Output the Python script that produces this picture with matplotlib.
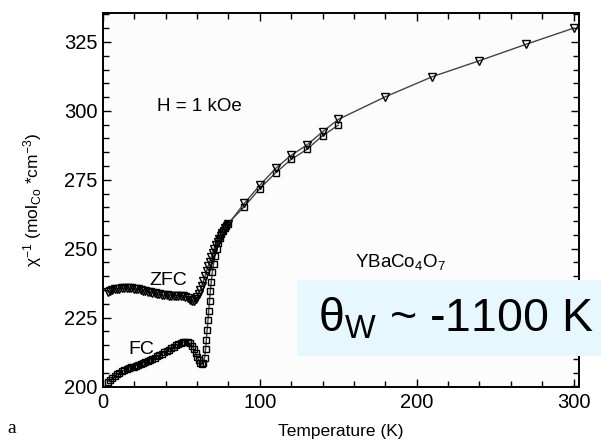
import matplotlib
matplotlib.use('Agg')
import matplotlib.pyplot as plt
from matplotlib.patches import Rectangle
from matplotlib.ticker import MultipleLocator

plt.rcParams['font.family'] = ['Liberation Sans', 'DejaVu Sans']
plt.rcParams['mathtext.default'] = 'regular'

# zero-field-cooled branch (dense low-T sweep + sparse high-T points)
zfc_T = [3, 4.5, 6, 7.5, 9, 10.5, 12, 13.5, 15, 16.5, 18, 19.5, 21, 22.5, 24,
         25.5, 27, 28.5, 30, 31.5, 33, 34.5, 36, 37.5, 39, 40.5, 42, 43.5, 45,
         46.5, 48, 49.5, 51, 52.5, 54, 55.5, 57, 58, 59, 60, 61, 62, 63, 64, 65,
         66, 67, 68, 69, 70, 71, 72, 73, 74, 75, 76, 77, 78, 79, 80,
         90, 100, 110, 120, 130, 140, 150, 180, 210, 240, 270, 300]
zfc_chi = [234.3, 234.6, 234.9, 235.2, 235.4, 235.5, 235.6, 235.7, 235.7, 235.7,
           235.6, 235.5, 235.4, 235.2, 235.0, 234.8, 234.6, 234.4, 234.2, 234.0,
           233.8, 233.6, 233.4, 233.3, 233.2, 233.1, 233.0, 233.0, 233.0, 233.0,
           233.0, 233.0, 232.9, 232.6, 232.0, 231.4, 231.0, 231.0, 231.6, 232.5,
           233.7, 235.0, 236.6, 238.3, 240.0, 241.8, 243.6, 245.3, 247.0, 248.5,
           250.0, 251.3, 252.5, 253.6, 254.6, 255.6, 256.5, 257.4, 258.2, 259.0,
           266.4, 273.0, 279.1, 283.9, 287.6, 292.4, 296.9, 305.1, 312.4, 318.2,
           324.2, 330.0]

# field-cooled branch
fc_T = [3, 4.5, 6, 7.5, 9, 10.5, 12, 13.5, 15, 16.5, 18, 19.5, 21, 22.5, 24,
        25.5, 27, 28.5, 30, 31.5, 33, 34.5, 36, 37.5, 39, 40.5, 42, 43.5, 45,
        46.5, 48, 49.5, 51, 52.5, 54, 55.5, 57, 58, 59, 60, 61, 62, 63, 64,
        64.8, 65.4, 65.9, 66.4, 66.9, 67.4, 67.9, 68.4, 69, 69.7, 70.5, 71.5,
        72.5, 73.5, 74.5, 75.5, 76.5, 77.5, 78.5, 79.5,
        90, 100, 110, 120, 130, 140, 150]
fc_chi = [201.8, 202.3, 203.0, 203.7, 204.4, 205.0, 205.5, 205.9, 206.3, 206.6,
          206.9, 207.2, 207.5, 207.8, 208.1, 208.4, 208.8, 209.2, 209.6, 210.0,
          210.4, 210.9, 211.4, 211.9, 212.4, 212.9, 213.4, 213.9, 214.4, 214.9,
          215.4, 215.8, 216.1, 216.2, 216.1, 215.6, 214.6, 213.5, 212.2, 210.8,
          209.5, 208.5, 208.0, 208.6, 210.5, 213.5, 217.0, 220.5, 224.0, 227.5,
          231.0, 234.5, 238.0, 241.5, 244.5, 247.5, 250.0, 252.0, 253.8, 255.2,
          256.4, 257.5, 258.4, 259.0,
          265.2, 271.8, 277.5, 282.4, 286.0, 291.0, 294.8]

fig = plt.figure(figsize=(6.01, 4.41), dpi=100)
fig.patch.set_facecolor('white')
ax = fig.add_axes([0.1714, 0.1224, 0.792, 0.8481])
ax.set_facecolor('#fcfcfc')

ax.plot(fc_T, fc_chi, color='#444444', lw=1.0, marker='s', ms=5,
        mfc='none', mec='black', mew=1.0)
ax.plot(zfc_T, zfc_chi, color='#444444', lw=1.0, marker='v', ms=5.5,
        mfc='none', mec='black', mew=1.0)

ax.set_xlim(0, 303.5)
ax.set_ylim(199.8, 335.5)
ax.xaxis.set_major_locator(MultipleLocator(100))
ax.xaxis.set_minor_locator(MultipleLocator(20))
ax.yaxis.set_major_locator(MultipleLocator(25))
ax.yaxis.set_minor_locator(MultipleLocator(5))
ax.tick_params(which='both', direction='in', top=True, right=True,
               width=1.0, labelsize=14.5, pad=4)
ax.tick_params(which='major', length=6)
ax.tick_params(which='minor', length=4)
for s in ax.spines.values():
    s.set_linewidth(1.4)

ax.set_xlabel('Temperature (K)', fontsize=12.5)
ax.set_ylabel(r'$\chi^{-1}$ (mol$_{Co}$ *cm$^{-3}$)', fontsize=12.5)
ax.yaxis.set_label_coords(-0.125, 0.5)
ax.xaxis.set_label_coords(0.5, -0.1)

ax.text(61.5, 301.4, 'H = 1 kOe', fontsize=13.5, ha='center', va='center')
ax.text(41.5, 238.5, 'ZFC', fontsize=14, ha='center', va='center')
ax.text(24.3, 213.3, 'FC', fontsize=14, ha='center', va='center')
ax.text(189.6, 245.2, r'YBaCo$_4$O$_7$', fontsize=13.5, ha='center', va='center')

# Weiss temperature callout
fig.patches.append(Rectangle((0.494, 0.193), 0.506, 0.172,
                             transform=fig.transFigure, facecolor='#e6f8fe',
                             edgecolor='none', zorder=5))
fig.text(0.529, 0.248, r'$\theta_W$ ~ -1100 K', fontsize=33.5,
         ha='left', va='baseline', zorder=6)

fig.text(0.012, 0.018, 'a', fontsize=14, family='Liberation Serif')

plt.savefig('out.png', dpi=100, facecolor=fig.get_facecolor())
